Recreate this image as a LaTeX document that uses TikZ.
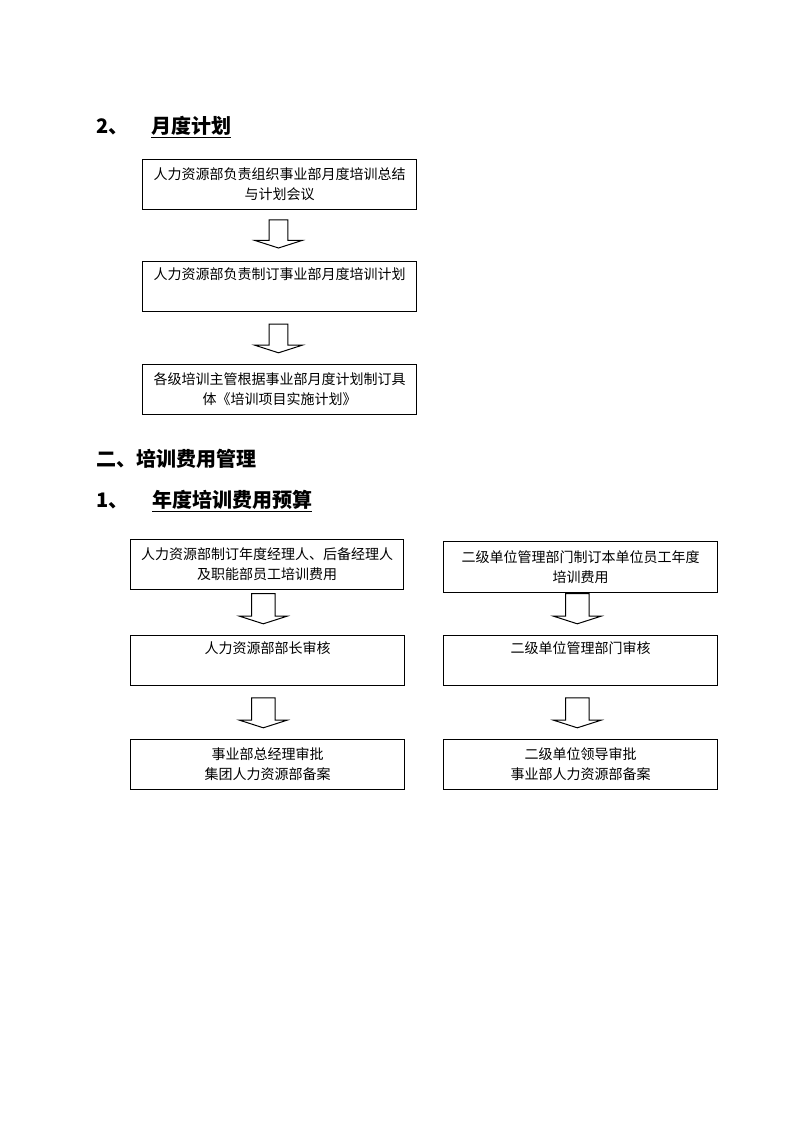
\documentclass[tikz,border=0pt]{standalone}
\usepackage{fontspec}
\setmainfont{Noto Sans CJK SC}
\usetikzlibrary{calc}

% block arrow: #1 top point, #2 tip point, #3 half shaft width
\newcommand{\blockarrow}[3]{%
  \draw [black, line width=0.75pt, fill=white] let \p1=#1, \p2=#2 in
    ({\x1-#3},\y1) -- ({\x1+#3},\y1) -- ({\x1+#3},{\y2+5.7pt}) --
    ({\x1+17.8pt},{\y2+5.7pt}) -- (\x1,\y2) -- ({\x1-17.8pt},{\y2+5.7pt}) --
    ({\x1-#3},{\y2+5.7pt}) -- cycle;}

\begin{document}
\begin{tikzpicture}[x=0.75pt,y=-0.75pt]
  \tikzstyle{every node}+=[inner sep=0pt]
  \tikzstyle{flowbox}=[draw=black, line width=0.75pt, align=center,
    minimum width=205pt, minimum height=37.5pt,
    font=\fontsize{10.5pt}{15pt}\selectfont]
  \tikzstyle{heading}=[anchor=west, font=\fontsize{15pt}{18pt}\selectfont\bfseries]
  \useasboundingbox (0,0) rectangle (794,1123);

  % monthly plan
  \node [heading] (num2) at (96,127) {2、};
  \node [heading] (title2) at (151,127) {\underline{月度计划}};
  \node [flowbox] (m1) at (279.5,184.5) {人力资源部负责组织事业部月度培训总结\\与计划会议};
  \node [flowbox] (m2) at (279.5,286.5) {人力资源部负责制订事业部月度培训计划\\ \strut};
  \node [flowbox] (m3) at (279.5,389.3) {各级培训主管根据事业部月度计划制订具\\体《培训项目实施计划》};
  \blockarrow{($(m1.south)+(-1,10)$)}{($(m2.north)+(-1,-13)$)}{7pt}
  \blockarrow{($(m2.south)+(-1,12)$)}{($(m3.north)+(-1,-11)$)}{7pt}

  % training cost
  \node [heading] (sec2) at (96,459) {二、培训费用管理};
  \node [heading] (num1) at (96,501) {1、};
  \node [heading] (title1) at (152,501) {\underline{年度培训费用预算}};

  \node [flowbox] (l1) at (267,564) {人力资源部制订年度经理人、后备经理人\\及职能部员工培训费用};
  \node [flowbox] (l2) at (267.5,660.3) {人力资源部部长审核\\ \strut};
  \node [flowbox] (l3) at (267.5,764.3) {事业部总经理审批\\集团人力资源部备案};
  \blockarrow{($(l1.south)+(-3.7,4)$)}{($(l2.north)+(-4.2,-11)$)}{8.8pt}
  \blockarrow{($(l2.south)+(-4.2,12)$)}{($(l3.north)+(-4.2,-11)$)}{8.8pt}

  \node [flowbox, minimum height=38pt] (r1) at (580.5,566.8) {二级单位管理部门制订本单位员工年度\\培训费用};
  \node [flowbox] (r2) at (580.5,660.3) {二级单位管理部门审核\\ \strut};
  \node [flowbox] (r3) at (580.5,764.3) {二级单位领导审批\\事业部人力资源部备案};
  \blockarrow{($(r1.south)+(-3.2,1)$)}{($(r2.north)+(-3.2,-11)$)}{8.8pt}
  \blockarrow{($(r2.south)+(-3.2,12)$)}{($(r3.north)+(-3.2,-11)$)}{8.8pt}
\end{tikzpicture}
\end{document}
